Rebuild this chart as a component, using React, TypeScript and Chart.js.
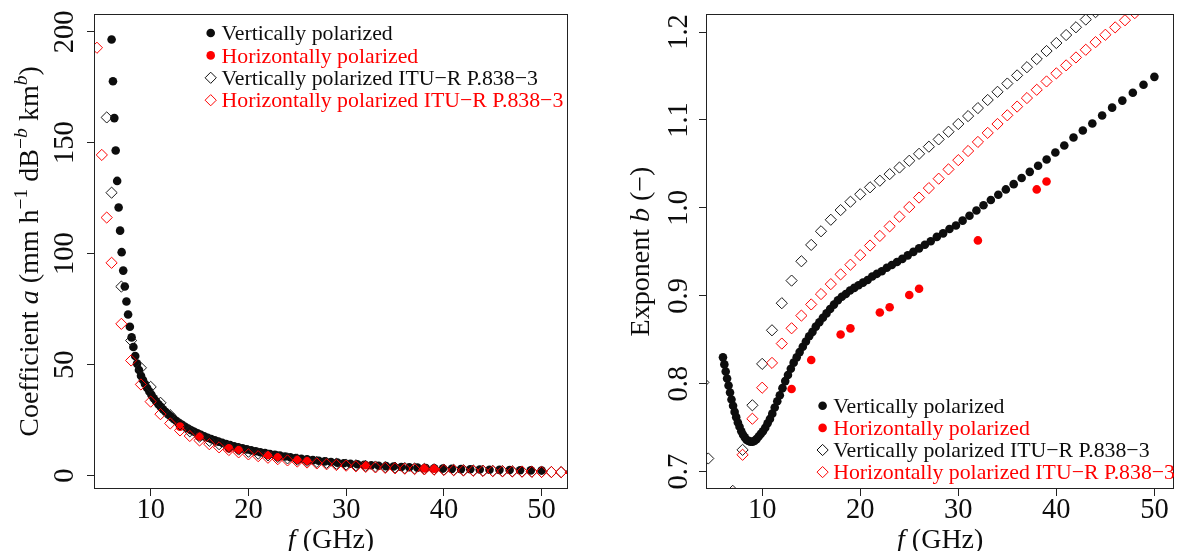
import React, { useEffect, useRef } from 'react';
import { Chart, registerables } from 'chart.js';

Chart.register(...registerables);

// ---------- data ----------
const FREQ_MEAS = [
  6.0, 6.14, 6.28, 6.42, 6.57, 6.72, 6.87, 7.03, 7.19, 7.35,
  7.52, 7.69, 7.87, 8.05, 8.23, 8.42, 8.61, 8.8, 9.01, 9.21,
  9.42, 9.64, 9.86, 10.08, 10.31, 10.55, 10.79, 11.03, 11.28, 11.54,
  11.8, 12.07, 12.35, 12.63, 12.92, 13.21, 13.52, 13.82, 14.14, 14.46,
  14.79, 15.13, 15.47, 15.83, 16.19, 16.56, 16.93, 17.32, 17.72, 18.12,
  18.53, 18.96, 19.39, 19.83, 20.28, 20.75, 21.22, 21.7, 22.2, 22.71,
  23.22, 23.75, 24.29, 24.85, 25.42, 26.0, 26.59, 27.19, 27.81, 28.45,
  29.1, 29.76, 30.44, 31.14, 31.85, 32.57, 33.32, 34.08, 34.85, 35.65,
  36.46, 37.29, 38.14, 39.01, 39.9, 40.81, 41.75, 42.7, 43.67, 44.67,
  45.69, 46.73, 47.8, 48.89, 50.0,
];
const A_V_MEAS = [
  196.5, 177.7, 161.1, 146.5, 132.8, 120.8, 110.4, 100.7, 92.4, 85.2,
  78.5, 72.6, 67.1, 62.3, 58.0, 53.9, 50.5, 47.6, 45.0, 43.1,
  41.3, 39.5, 37.9, 36.4, 34.9, 33.5, 32.2, 31.0, 29.8, 28.7,
  27.6, 26.6, 25.6, 24.65, 23.75, 22.9, 22.05, 21.27, 20.5, 19.77,
  19.06, 18.38, 17.74, 17.1, 16.49, 15.91, 15.35, 14.8, 14.27, 13.76,
  13.27, 12.78, 12.32, 11.86, 11.42, 10.98, 10.57, 10.17, 9.77, 9.39,
  9.02, 8.66, 8.32, 7.98, 7.65, 7.33, 7.02, 6.73, 6.44, 6.16,
  5.89, 5.63, 5.38, 5.14, 4.91, 4.7, 4.49, 4.29, 4.11, 3.94,
  3.78, 3.63, 3.49, 3.36, 3.2, 3.07, 2.96, 2.87, 2.78, 2.7,
  2.62, 2.54, 2.46, 2.38, 2.3,
];
const B_V_MEAS = [
  0.83, 0.822, 0.814, 0.806, 0.798, 0.79, 0.782, 0.775, 0.768, 0.762,
  0.756, 0.751, 0.746, 0.742, 0.739, 0.736, 0.735, 0.734, 0.734, 0.735,
  0.737, 0.74, 0.743, 0.746, 0.75, 0.755, 0.76, 0.766, 0.773, 0.78,
  0.787, 0.795, 0.803, 0.81, 0.817, 0.824, 0.83, 0.836, 0.842, 0.848,
  0.854, 0.859, 0.865, 0.87, 0.875, 0.88, 0.885, 0.89, 0.895, 0.899,
  0.902, 0.906, 0.909, 0.912, 0.915, 0.918, 0.922, 0.925, 0.928, 0.932,
  0.935, 0.9385, 0.942, 0.946, 0.95, 0.954, 0.958, 0.962, 0.967, 0.971,
  0.976, 0.98, 0.9855, 0.991, 0.997, 1.003, 1.009, 1.015, 1.021, 1.027,
  1.034, 1.041, 1.048, 1.055, 1.063, 1.071, 1.08, 1.088, 1.096, 1.105,
  1.114, 1.122, 1.131, 1.14, 1.149,
];

const FREQ_H_MEAS = [13, 15, 18, 19, 22, 23, 25, 26, 32, 38, 39];
const A_H_MEAS = [22.1, 17.6, 12.3, 11.6, 9.2, 8.3, 7.1, 6.6, 4.7, 3.3, 3.1];
const B_H_MEAS = [0.794, 0.827, 0.856, 0.863, 0.881, 0.887, 0.901, 0.908, 0.963, 1.021, 1.03];

const FREQ_ITU = [
  4, 4.5, 5, 5.5, 6, 7, 8, 9, 10, 11, 12, 13, 14, 15, 16, 17, 18, 19, 20, 21,
  22, 23, 24, 25, 26, 27, 28, 29, 30, 31, 32, 33, 34, 35, 36, 37, 38, 39, 40,
  41, 42, 43, 44, 45, 46, 47, 48, 49, 50, 51, 52, 53,
];
const A_V_ITU = [
  780, 393, 229, 161.4, 127.5, 85.2, 60.9, 48.6, 40.0, 32.85, 27.25, 23.08, 19.98, 17.6, 15.72, 14.19, 12.89, 11.77, 10.79, 9.91,
  9.13, 8.43, 7.79, 7.21, 6.69, 6.21, 5.78, 5.38, 5.02, 4.7, 4.4, 4.12, 3.87, 3.64, 3.43, 3.24, 3.06, 2.89, 2.74,
  2.61, 2.48, 2.36, 2.25, 2.15, 2.05, 1.97, 1.88, 1.81, 1.74, 1.67, 1.61, 1.55,
];
const A_H_ITU = [
  302, 192.8, 144.5, 116.3, 95.9, 68.4, 51.9, 41.1, 33.36, 27.72, 23.55, 20.38, 17.88, 15.87, 14.19, 12.77, 11.56, 10.51, 9.6, 8.79,
  8.08, 7.45, 6.88, 6.38, 5.92, 5.51, 5.14, 4.8, 4.5, 4.22, 3.96, 3.73, 3.52, 3.32, 3.14, 2.98, 2.83, 2.69, 2.56,
  2.44, 2.33, 2.22, 2.13, 2.04, 1.95, 1.88, 1.8, 1.74, 1.67, 1.61, 1.56, 1.51,
];
const B_V_ITU = [
  0.8015, 0.715, 0.6529, 0.6296, 0.6358, 0.6782, 0.7248, 0.7755, 0.8226, 0.8608, 0.8916, 0.9173, 0.9393, 0.9579, 0.9734, 0.9865, 0.9975, 1.007, 1.0155, 1.0234,
  1.0309, 1.0384, 1.0459, 1.0536, 1.0615, 1.0696, 1.0779, 1.0866, 1.0954, 1.1044, 1.1135, 1.1227, 1.132, 1.1414, 1.1507, 1.16, 1.1693, 1.1784, 1.1875,
  1.1966, 1.2054, 1.2142, 1.2226, 1.2311, 1.2393, 1.2474, 1.2552, 1.2629, 1.2705, 1.2778, 1.2849, 1.2918,
];
const B_H_ITU = [
  0.6247, 0.59, 0.5893, 0.6061, 0.6289, 0.6752, 0.7192, 0.7602, 0.7955, 0.8237, 0.8457, 0.8631, 0.8775, 0.8902, 0.902, 0.9133, 0.9244, 0.9354, 0.9463, 0.9572,
  0.9681, 0.979, 0.99, 1.0009, 1.0117, 1.0225, 1.0332, 1.0438, 1.0543, 1.0647, 1.075, 1.0853, 1.0954, 1.1053, 1.1152, 1.1249, 1.1343, 1.1438, 1.153,
  1.1621, 1.1711, 1.1798, 1.1885, 1.1969, 1.2053, 1.2134, 1.2215, 1.2294, 1.237, 1.2447, 1.252, 1.2593,
];

const X_TICKS = [10, 20, 30, 40, 50];
const X_TICK_LABELS = ['10', '20', '30', '40', '50'];
const A_TICKS = [0, 50, 100, 150, 200];
const A_TICK_LABELS = ['0', '50', '100', '150', '200'];
const B_TICKS = [0.7, 0.8, 0.9, 1.0, 1.1, 1.2];
const B_TICK_LABELS = ['0.7', '0.8', '0.9', '1.0', '1.1', '1.2'];

const LEGEND_LABELS = [
  'Vertically polarized',
  'Horizontally polarized',
  'Vertically polarized ITU\u2212R P.838\u22123',
  'Horizontally polarized ITU\u2212R P.838\u22123',
];

// ---------- styling ----------
const BLACK = '#0d0d0d';
const RED = '#ff0000';
const SERIF = '"Liberation Serif", "Times New Roman", serif';
const TICK_FONT = 28.5;
const TITLE_FONT = 28;
const LEGEND_FONT = 21.8;
const DOT_R = 4.3;
const DIAMOND_R = 5.6;

type Run = { t: string; it?: boolean; sup?: boolean };

const X_TITLE: Run[] = [{ t: 'f', it: true }, { t: ' (GHz)' }];
const A_TITLE: Run[] = [
  { t: 'Coefficient ' }, { t: 'a', it: true }, { t: ' (mm h' }, { t: '\u22121', sup: true },
  { t: ' dB' }, { t: '\u2212', sup: true }, { t: 'b', sup: true, it: true }, { t: ' km' },
  { t: 'b', sup: true, it: true }, { t: ')' },
];
const B_TITLE: Run[] = [{ t: 'Exponent ' }, { t: 'b', it: true }, { t: ' (\u2212)' }];

function runFont(r: Run, size: number) {
  const s = r.sup ? size * 0.7 : size;
  return `${r.it ? 'italic ' : ''}${s}px ${SERIF}`;
}

function drawRuns(ctx: CanvasRenderingContext2D, runs: Run[], size: number, cx: number, baseY: number) {
  let total = 0;
  const widths = runs.map((r) => {
    ctx.font = runFont(r, size);
    const w = ctx.measureText(r.t).width;
    total += w;
    return w;
  });
  let x = cx - total / 2;
  ctx.textAlign = 'left';
  ctx.textBaseline = 'alphabetic';
  runs.forEach((r, i) => {
    ctx.font = runFont(r, size);
    ctx.fillText(r.t, x, baseY - (r.sup ? size * 0.4 : 0));
    x += widths[i];
  });
}

type PanelCfg = {
  yTicks: number[];
  yTickLabels: string[];
  yTitle: Run[];
  yTickBaseX: number;
  yTitleBaseX: number;
  legendMarkerX: number;
  legendTextX: number;
  legendY0: number;
  legendDY: number;
};

function makeOverlay(cfg: PanelCfg) {
  return {
    id: 'rOverlay',
    afterDraw(chart: any) {
      const { ctx, chartArea: ca } = chart;
      const xs = chart.scales.x;
      const ys = chart.scales.y;
      ctx.save();
      // box
      ctx.strokeStyle = '#222222';
      ctx.lineWidth = 1;
      ctx.strokeRect(Math.round(ca.left) + 0.5, Math.round(ca.top) + 0.5,
        Math.round(ca.right - ca.left) - 1, Math.round(ca.bottom - ca.top) - 1);

      ctx.fillStyle = BLACK;
      // x tick labels
      ctx.font = `${TICK_FONT}px ${SERIF}`;
      ctx.textAlign = 'center';
      ctx.textBaseline = 'alphabetic';
      X_TICKS.forEach((v, i) => {
        ctx.fillText(X_TICK_LABELS[i], xs.getPixelForValue(v), 518);
      });
      // y tick labels (rotated, parallel to axis)
      cfg.yTicks.forEach((v, i) => {
        const py = ys.getPixelForValue(v);
        ctx.save();
        ctx.translate(cfg.yTickBaseX, py);
        ctx.rotate(-Math.PI / 2);
        ctx.font = `${TICK_FONT}px ${SERIF}`;
        ctx.textAlign = 'center';
        ctx.textBaseline = 'alphabetic';
        ctx.fillText(cfg.yTickLabels[i], 0, 0);
        ctx.restore();
      });
      // x title
      drawRuns(ctx, X_TITLE, TITLE_FONT, (ca.left + ca.right) / 2, 548);
      // y title
      ctx.save();
      ctx.translate(cfg.yTitleBaseX, (ca.top + ca.bottom) / 2);
      ctx.rotate(-Math.PI / 2);
      drawRuns(ctx, cfg.yTitle, TITLE_FONT, 0, 0);
      ctx.restore();

      // legend
      const colors = [BLACK, RED, BLACK, RED];
      LEGEND_LABELS.forEach((label, i) => {
        const y = cfg.legendY0 + i * cfg.legendDY;
        const mx = cfg.legendMarkerX;
        ctx.beginPath();
        if (i < 2) {
          ctx.fillStyle = colors[i];
          ctx.arc(mx, y, DOT_R, 0, Math.PI * 2);
          ctx.fill();
        } else {
          ctx.strokeStyle = colors[i];
          ctx.lineWidth = 1;
          ctx.moveTo(mx - DIAMOND_R, y);
          ctx.lineTo(mx, y - DIAMOND_R);
          ctx.lineTo(mx + DIAMOND_R, y);
          ctx.lineTo(mx, y + DIAMOND_R);
          ctx.closePath();
          ctx.stroke();
        }
        ctx.fillStyle = colors[i];
        ctx.font = `${LEGEND_FONT}px ${SERIF}`;
        ctx.textAlign = 'left';
        ctx.textBaseline = 'alphabetic';
        ctx.fillText(label, cfg.legendTextX, y + LEGEND_FONT * 0.33);
      });
      ctx.restore();
    },
  };
}

function zip(xs: number[], ys: number[]) {
  return xs.map((x, i) => ({ x, y: ys[i] }));
}

function buildConfig(opts: {
  vMeas: number[]; hMeas: number[]; vItu: number[]; hItu: number[];
  xMin: number; xMax: number; yMin: number; yMax: number;
  yAxisWidth: number; padRight: number; panel: PanelCfg;
}): any {
  const grid = {
    display: true,
    drawOnChartArea: false,
    drawTicks: true,
    tickLength: 7,
    color: '#222222',
    lineWidth: 1,
  };
  return {
    type: 'scatter',
    data: {
      datasets: [
        {
          label: LEGEND_LABELS[0], data: zip(FREQ_MEAS, opts.vMeas), order: 3,
          pointStyle: 'circle', pointRadius: DOT_R, pointBorderWidth: 0,
          pointBackgroundColor: BLACK, borderColor: BLACK, clip: 0,
        },
        {
          label: LEGEND_LABELS[1], data: zip(FREQ_H_MEAS, opts.hMeas), order: 2,
          pointStyle: 'circle', pointRadius: DOT_R, pointBorderWidth: 0,
          pointBackgroundColor: RED, borderColor: RED, clip: 0,
        },
        {
          label: LEGEND_LABELS[2], data: zip(FREQ_ITU, opts.vItu), order: 1,
          pointStyle: 'rectRot', pointRadius: DIAMOND_R, pointBorderWidth: 1,
          pointBackgroundColor: 'rgba(0,0,0,0)', pointBorderColor: '#1a1a1a', clip: 0,
        },
        {
          label: LEGEND_LABELS[3], data: zip(FREQ_ITU, opts.hItu), order: 0,
          pointStyle: 'rectRot', pointRadius: DIAMOND_R, pointBorderWidth: 1,
          pointBackgroundColor: 'rgba(0,0,0,0)', pointBorderColor: RED, clip: 0,
        },
      ],
    },
    options: {
      animation: false,
      responsive: false,
      devicePixelRatio: 1,
      events: [],
      layout: { padding: { left: 0, top: 14, right: opts.padRight, bottom: 0 } },
      plugins: { legend: { display: false }, tooltip: { enabled: false } },
      scales: {
        x: {
          type: 'linear', min: opts.xMin, max: opts.xMax,
          afterBuildTicks: (s: any) => { s.ticks = X_TICKS.map((v) => ({ value: v })); },
          afterFit: (s: any) => { s.height = 62; },
          ticks: { display: false },
          grid,
          border: { display: false },
        },
        y: {
          type: 'linear', min: opts.yMin, max: opts.yMax,
          afterBuildTicks: (s: any) => { s.ticks = opts.panel.yTicks.map((v) => ({ value: v })); },
          afterFit: (s: any) => { s.width = opts.yAxisWidth; },
          ticks: { display: false },
          grid,
          border: { display: false },
        },
      },
    },
    plugins: [makeOverlay(opts.panel)],
  };
}

export default function App() {
  const leftRef = useRef<HTMLCanvasElement>(null);
  const rightRef = useRef<HTMLCanvasElement>(null);

  useEffect(() => {
    const left = new Chart(leftRef.current as HTMLCanvasElement, buildConfig({
      vMeas: A_V_MEAS, hMeas: A_H_MEAS, vItu: A_V_ITU, hItu: A_H_ITU,
      xMin: 4.2, xMax: 52.7, yMin: -6, yMax: 208,
      yAxisWidth: 94, padRight: 32,
      panel: {
        yTicks: A_TICKS, yTickLabels: A_TICK_LABELS, yTitle: A_TITLE,
        yTickBaseX: 73, yTitleBaseX: 38,
        legendMarkerX: 210.7, legendTextX: 221.5, legendY0: 33, legendDY: 22.4,
      },
    }));
    const right = new Chart(rightRef.current as HTMLCanvasElement, buildConfig({
      vMeas: B_V_MEAS, hMeas: B_H_MEAS, vItu: B_V_ITU, hItu: B_H_ITU,
      xMin: 4.27, xMax: 52.04, yMin: 0.6803, yMax: 1.2205,
      yAxisWidth: 106, padRight: 6,
      panel: {
        yTicks: B_TICKS, yTickLabels: B_TICK_LABELS, yTitle: B_TITLE,
        yTickBaseX: 87, yTitleBaseX: 49,
        legendMarkerX: 222.6, legendTextX: 233.2, legendY0: 405.8, legendDY: 22.1,
      },
    }));
    return () => { left.destroy(); right.destroy(); };
  }, []);

  return (
    <div style={{ position: 'absolute', left: 0, top: 0, width: 1181, height: 551, background: '#ffffff', overflow: 'hidden' }}>
      <canvas ref={leftRef} width={600} height={551} style={{ position: 'absolute', left: 0, top: 0, display: 'block' }} />
      <canvas ref={rightRef} width={581} height={551} style={{ position: 'absolute', left: 600, top: 0, display: 'block' }} />
    </div>
  );
}
